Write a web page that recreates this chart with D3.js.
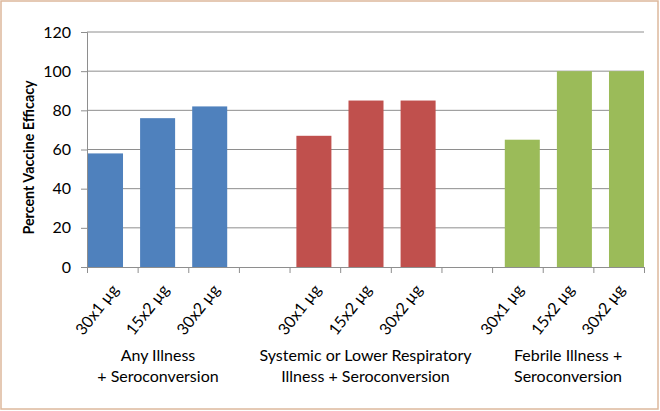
<!DOCTYPE html>
<html>
<head>
<meta charset="utf-8">
<script src="https://cdn.jsdelivr.net/npm/d3@7"></script>
<style>
  html, body { margin: 0; padding: 0; background: #fff; }
  svg { display: block; }
  text { font-family: Lato, "Open Sans", sans-serif; fill: #000; }
</style>
</head>
<body>
<script>
// ---- data ----
const groupLabels = [
  ["Any Illness", "+ Seroconversion"],
  ["Systemic or Lower Respiratory", "Illness + Seroconversion"],
  ["Febrile Illness +", "Seroconversion"]
];
const doses = ["30x1 µg", "15x2 µg", "30x2 µg"];
const anyIllness = [58, 76, 82];
const systemicIllness = [67, 85, 85];
const febrileIllness = [65, 100, 100];
const seriesColors = ["#4F81BD", "#C0504D", "#9BBB59"];
const yTicks = [0, 20, 40, 60, 80, 100, 120];
const yTitle = "Percent Vaccine Efficacy";

const W = 660, H = 411;
const svg = d3.select("body").append("svg").attr("width", W).attr("height", H);

// frame
svg.append("rect").attr("x", 1).attr("y", 1).attr("width", W - 3).attr("height", H - 3)
  .attr("fill", "#fff").attr("stroke", "#DDB89C").attr("stroke-width", 1.5);

// build slots: 3 bars per group, an empty slot between groups
const allValues = [anyIllness, systemicIllness, febrileIllness];
const slots = [];
const bars = [];
allValues.forEach((vals, g) => {
  vals.forEach((v, i) => {
    const key = `g${g}-${i}`;
    slots.push(key);
    bars.push({ key, value: v, group: g, dose: doses[i], slot: slots.length - 1 });
  });
  if (g < allValues.length - 1) slots.push(`gap${g}`);
});

const plotLeft = 87, plotRight = 644, plotTop = 32, plotBottom = 267;

const y = d3.scaleLinear().domain([0, 120]).range([plotBottom, plotTop]);
const xEdge = d3.scaleLinear().domain([0, slots.length]).range([plotLeft, plotRight]);
const xBar = d3.scaleBand().domain(slots).range([plotLeft + 1, plotRight])
  .paddingInner(0.328).paddingOuter(0);

// gridlines
svg.append("g").selectAll("line").data(yTicks.filter(d => d > 0)).join("line")
  .attr("x1", plotLeft).attr("x2", plotRight)
  .attr("y1", d => y(d)).attr("y2", d => y(d))
  .attr("stroke", "#8E8E8E").attr("stroke-width", 1);

// bars
svg.append("g").selectAll("rect").data(bars).join("rect")
  .attr("x", d => xBar(d.key))
  .attr("width", xBar.bandwidth())
  .attr("y", d => y(d.value))
  .attr("height", d => y(0) - y(d.value))
  .attr("fill", d => seriesColors[d.group]);

// y axis
const yAxis = svg.append("g").attr("transform", `translate(${plotLeft},0)`)
  .call(d3.axisLeft(y).tickValues(yTicks).tickSize(6).tickPadding(10));
yAxis.select(".domain").attr("stroke", "#8E8E8E");
yAxis.selectAll(".tick line").attr("stroke", "#8E8E8E");
yAxis.selectAll(".tick text").attr("font-size", 16).attr("font-family", "Lato, sans-serif").attr("fill", "#000");

// x axis (ticks at category boundaries)
const xAxis = svg.append("g").attr("transform", `translate(0,${plotBottom})`)
  .call(d3.axisBottom(xEdge).tickValues(d3.range(slots.length + 1)).tickSize(6).tickFormat(""));
xAxis.select(".domain").attr("stroke", "#8E8E8E");
xAxis.selectAll(".tick line").attr("stroke", "#8E8E8E");

// rotated dose labels
svg.append("g").selectAll("text").data(bars).join("text")
  .attr("transform", d => `translate(${xEdge(d.slot + 0.5) + 7},${plotBottom + 23}) rotate(-52)`)
  .attr("text-anchor", "end")
  .attr("font-size", 16)
  .text(d => d.dose);

// group labels
groupLabels.forEach((lines, g) => {
  const first = slots.indexOf(`g${g}-0`);
  const cx = xEdge(first + 1.5) - (g === 0 ? 5 : 0);
  const t = svg.append("text").attr("text-anchor", "middle").attr("font-size", 16);
  lines.forEach((ln, i) => {
    t.append("tspan").attr("x", cx).attr("y", 361 + i * 21).text(ln);
  });
});

// y title
svg.append("text")
  .attr("transform", `translate(34,${(plotTop + plotBottom) / 2 + 8}) rotate(-90)`)
  .attr("text-anchor", "middle")
  .attr("font-size", 14.3)
  .attr("font-weight", "bold")
  .text(yTitle);
</script>
</body>
</html>
